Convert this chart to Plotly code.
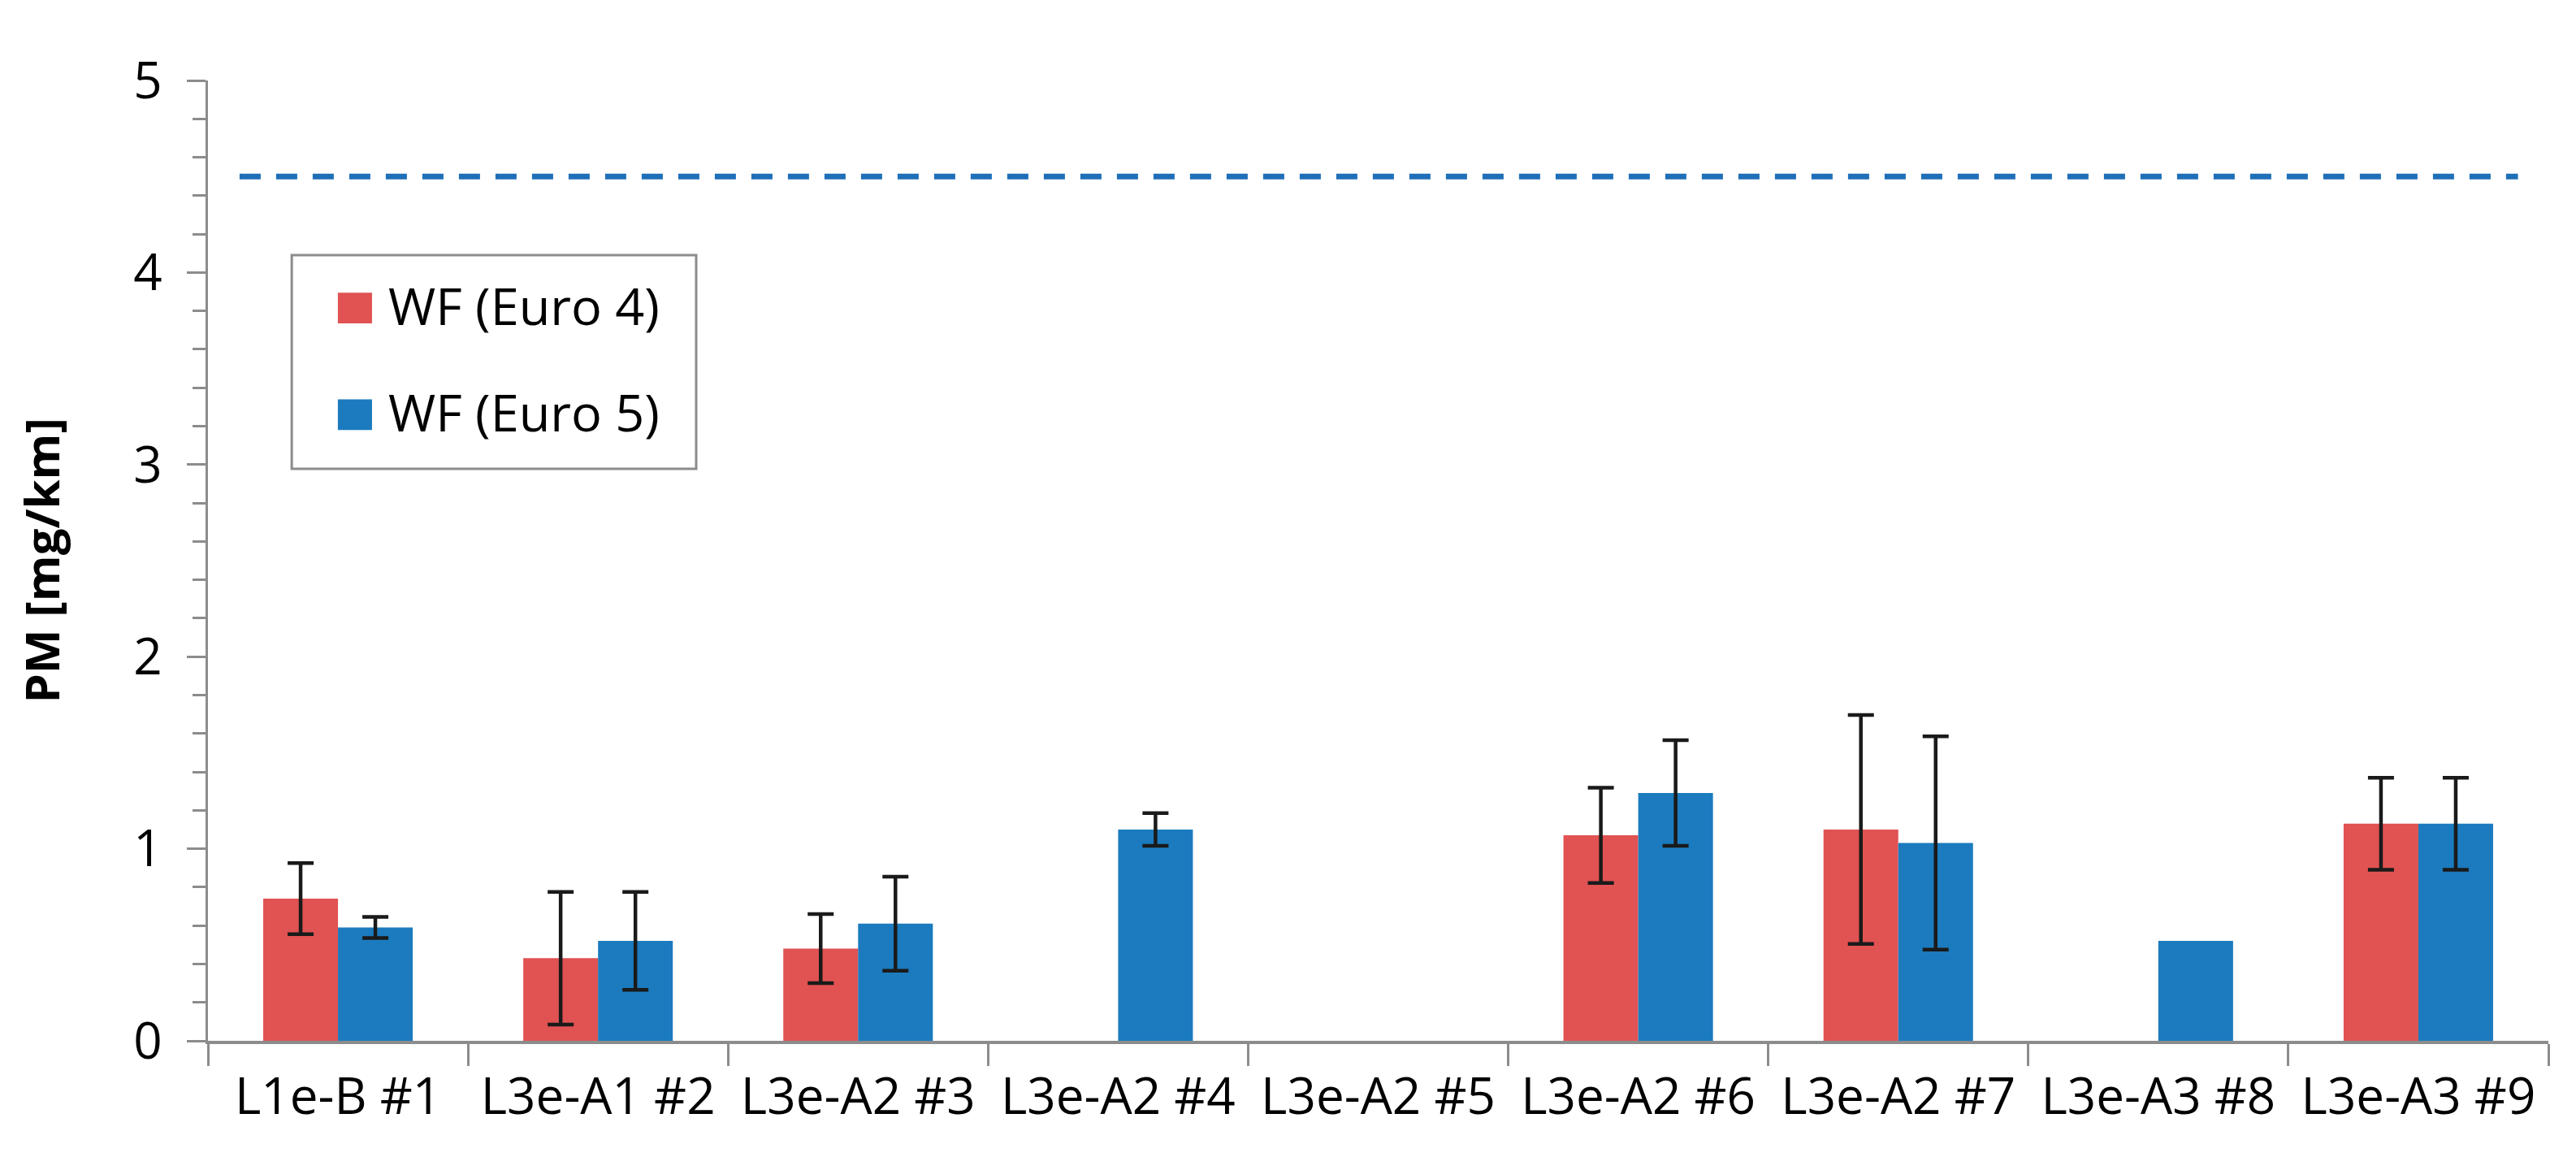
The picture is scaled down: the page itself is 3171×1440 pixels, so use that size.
import plotly.graph_objects as go

categories = ["L1e-B #1", "L3e-A1 #2", "L3e-A2 #3", "L3e-A2 #4", "L3e-A2 #5",
              "L3e-A2 #6", "L3e-A2 #7", "L3e-A3 #8", "L3e-A3 #9"]
series_names = ["WF (Euro 4)", "WF (Euro 5)"]
euro4_values = [0.74, 0.43, 0.48, None, None, 1.07, 1.10, None, 1.13]
euro4_errors = [0.185, 0.345, 0.18, None, None, 0.248, 0.596, None, 0.24]
euro5_values = [0.59, 0.52, 0.61, 1.10, None, 1.29, 1.03, 0.52, 1.13]
euro5_errors = [0.055, 0.255, 0.245, 0.085, None, 0.275, 0.555, None, 0.24]
limit_value = 4.5
y_ticks = [0, 1, 2, 3, 4, 5]

RED = "#E15252"
BLUE = "#1B7BBE"
GRID = "#8C8C8C"
FONT = "Open Sans"

fig = go.Figure()
for gi, (name, vals, errs, col) in enumerate(
        [(series_names[0], euro4_values, euro4_errors, RED),
         (series_names[1], euro5_values, euro5_errors, BLUE)]):
    # bars that carry an error bar
    y_err = [v if e is not None else None for v, e in zip(vals, errs)]
    e_arr = [e if e is not None else 0 for e in errs]
    fig.add_trace(go.Bar(
        x=categories, y=y_err, name=name, offsetgroup=str(gi),
        marker=dict(color=col, line=dict(width=0)),
        error_y=dict(type="data", array=e_arr, visible=True, color="#1a1a1a",
                     thickness=4.5, width=16),
        showlegend=False,
    ))
    # bars without an error bar
    y_noerr = [v if e is None else None for v, e in zip(vals, errs)]
    fig.add_trace(go.Bar(
        x=categories, y=y_noerr, name=name, offsetgroup=str(gi),
        marker=dict(color=col, line=dict(width=0)),
        showlegend=False,
    ))

# limit line
fig.add_shape(type="line", xref="paper", yref="y", x0=0.0135, x1=0.987,
              y0=limit_value, y1=limit_value,
              line=dict(color="#1F6FB8", width=7, dash="26px,19px"))

# legend drawn manually (large swatches)
fig.add_shape(type="rect", xref="paper", yref="paper", x0=0.0358, x1=0.2086,
              y0=0.5956, y1=0.8181, line=dict(color=GRID, width=3),
              fillcolor="white", layer="above")
legend_rows = [(0.763, RED), (0.652, BLUE)]
for (yc, col), name in zip(legend_rows, series_names):
    fig.add_shape(type="rect", xref="paper", yref="paper", x0=0.0555, x1=0.0701,
                  y0=yc - 0.016, y1=yc + 0.016, line=dict(width=0),
                  fillcolor=col, layer="above")
    fig.add_annotation(xref="paper", yref="paper", x=0.0762, y=yc + 0.003,
                       xanchor="left", yanchor="middle", text=name, showarrow=False,
                       font=dict(family=FONT, size=63, color="black"))

fig.update_layout(
    width=3171, height=1440,
    margin=dict(l=248, r=42, t=91, b=167),
    paper_bgcolor="white", plot_bgcolor="white",
    barmode="group", bargap=0.425, bargroupgap=0,
    font=dict(family=FONT, color="black"),
)
fig.update_xaxes(
    type="category", tickson="boundaries", ticks="outside", ticklen=27,
    tickwidth=3, tickcolor=GRID, showline=True, linecolor=GRID, linewidth=4,
    showgrid=False, tickfont=dict(family=FONT, size=62, color="black"),
    ticklabelstandoff=12, zeroline=False,
)
fig.update_yaxes(
    range=[0, 5], tickvals=y_ticks, ticks="outside", ticklen=23, tickwidth=3,
    tickcolor=GRID, showline=True, linecolor=GRID, linewidth=3, showgrid=False,
    zeroline=False, tickfont=dict(family=FONT, size=62, color="black"),
    minor=dict(dtick=0.2, ticks="outside", ticklen=16, tickwidth=3,
               tickcolor=GRID, showgrid=False),
    ticklabelstandoff=18,
    title=dict(text="<b>PM [mg/km]</b>", font=dict(family=FONT, size=58, color="black"),
               standoff=72),
)

fig.write_html("out.html")
